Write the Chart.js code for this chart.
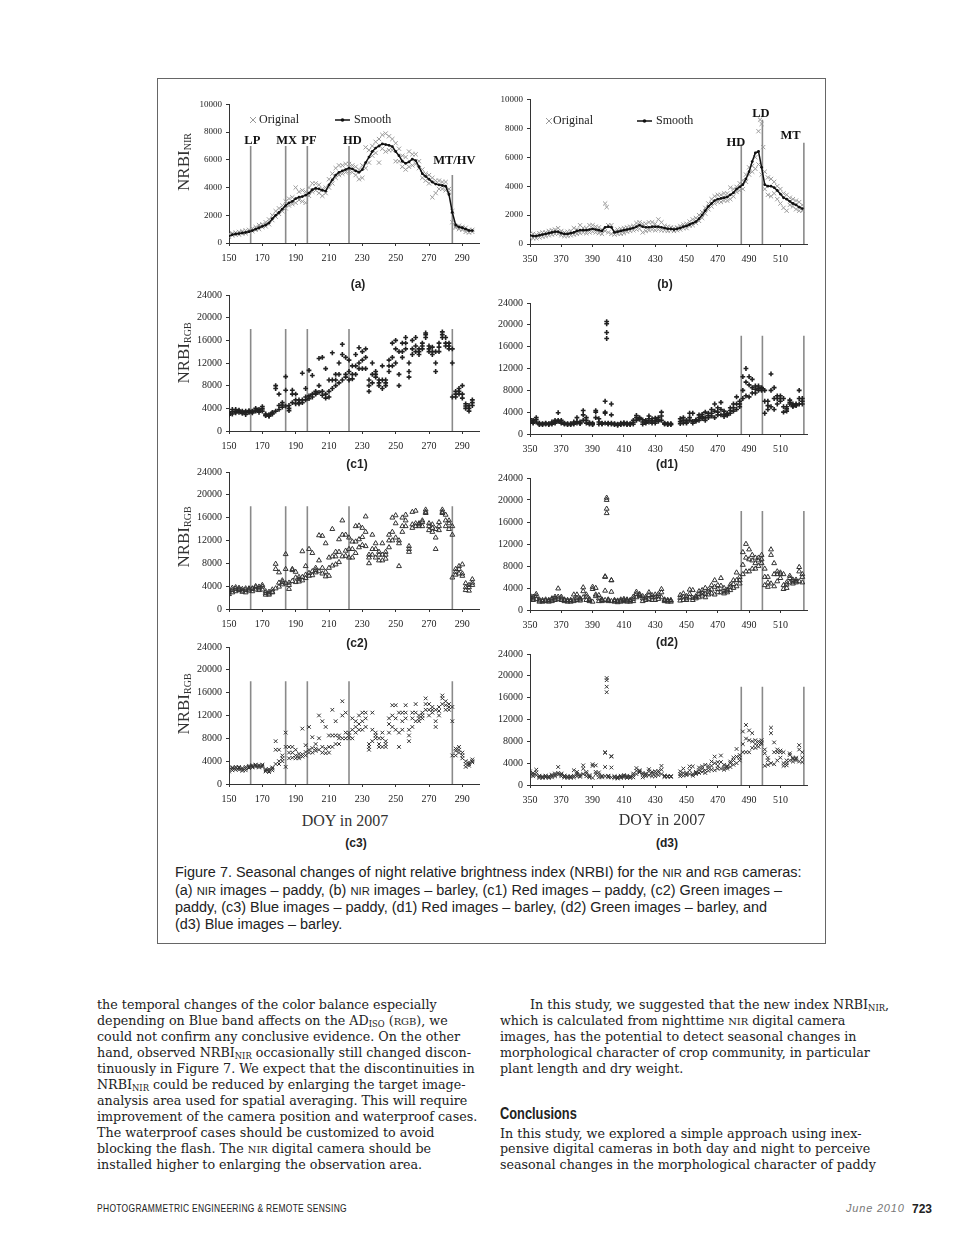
<!DOCTYPE html>
<html>
<head>
<meta charset="utf-8">
<script src="https://cdn.jsdelivr.net/npm/chart.js@4.4.1/dist/chart.umd.min.js"></script>
<style>
  body { margin:0; width:960px; height:1247px; position:relative; overflow:hidden; background:#fff; color:#222; font-family:"Liberation Serif", serif; }
  .box { position:absolute; left:157px; top:78px; width:667px; height:864px; border:1.5px solid #666; }
  canvas { position:absolute; }
  .ytit { position:absolute; font-size:17px; white-space:nowrap; transform:translate(-50%,-50%) rotate(-90deg); color:#333; }
  .ytit sub { font-size:10px; vertical-align:-2px; }
  .plab { position:absolute; font:bold 12px "Liberation Sans", Arial, sans-serif; transform:translate(-50%,-50%); }
  .doy { position:absolute; font-size:16px; transform:translate(-50%,-50%); white-space:nowrap; color:#333; }
  .cap { position:absolute; left:175px; font-family:"Liberation Sans", Arial, sans-serif; font-size:13px; white-space:nowrap; line-height:16px; }
  .sc { font-size:0.78em; }
  .txt { position:absolute; font-family:"DejaVu Serif", serif; font-size:12.5px; white-space:nowrap; line-height:16px; color:#222; }
  .txt sub { font-size:0.66em; vertical-align:-0.25em; line-height:0; }
  .head { position:absolute; left:500px; top:1105px; font:bold 16px "Liberation Sans", Arial, sans-serif; transform-origin:left center; transform:scaleX(0.8); }
  .foot { position:absolute; top:1202px; font-family:"Liberation Sans", Arial, sans-serif; white-space:nowrap; }
</style>
</head>
<body>
<div class="box"></div>

<canvas id="cA" width="320" height="170" style="left:171px;top:95px"></canvas>
<canvas id="cB" width="345" height="176" style="left:472px;top:90px"></canvas>
<canvas id="cC1" width="320" height="168" style="left:171px;top:285px"></canvas>
<canvas id="cD1" width="345" height="163" style="left:472px;top:293px"></canvas>
<canvas id="cC2" width="320" height="169" style="left:171px;top:462px"></canvas>
<canvas id="cD2" width="345" height="164" style="left:472px;top:468px"></canvas>
<canvas id="cC3" width="320" height="169" style="left:171px;top:637px"></canvas>
<canvas id="cD3" width="345" height="163" style="left:472px;top:644px"></canvas>

<div class="ytit" style="left:184px;top:162px">NRBI<sub>NIR</sub></div>
<div class="ytit" style="left:184px;top:353px">NRBI<sub>RGB</sub></div>
<div class="ytit" style="left:184px;top:537px">NRBI<sub>RGB</sub></div>
<div class="ytit" style="left:184px;top:704px">NRBI<sub>RGB</sub></div>

<div class="plab" style="left:358px;top:284px">(a)</div>
<div class="plab" style="left:665px;top:284px">(b)</div>
<div class="plab" style="left:357px;top:464px">(c1)</div>
<div class="plab" style="left:667px;top:464px">(d1)</div>
<div class="plab" style="left:357px;top:643px">(c2)</div>
<div class="plab" style="left:667px;top:642px">(d2)</div>
<div class="plab" style="left:356px;top:843px">(c3)</div>
<div class="plab" style="left:667px;top:843px">(d3)</div>
<div class="doy" style="left:345px;top:821px">DOY in 2007</div>
<div class="doy" style="left:662px;top:820px">DOY in 2007</div>

<div class="cap" id="cap1" style="top:864px">Figure 7. Seasonal changes of night relative brightness index (NRBI) for the <span class="sc">NIR</span> and <span class="sc">RGB</span> cameras:</div>
<div class="cap" style="top:882px">(a) <span class="sc">NIR</span> images – paddy, (b) <span class="sc">NIR</span> images – barley, (c1) Red images – paddy, (c2) Green images –</div>
<div class="cap" style="top:899px">paddy, (c3) Blue images – paddy, (d1) Red images – barley, (d2) Green images – barley, and</div>
<div class="cap" style="top:916px">(d3) Blue images – barley.</div>

<div class="txt" style="left:97px;top:997px">the temporal changes of the color balance especially</div>
<div class="txt" style="left:97px;top:1013px">depending on Blue band affects on the AD<sub>ISO</sub> (<span class="sc">RGB</span>), we</div>
<div class="txt" style="left:97px;top:1029px">could not confirm any conclusive evidence. On the other</div>
<div class="txt" style="left:97px;top:1045px">hand, observed NRBI<sub>NIR</sub> occasionally still changed discon-</div>
<div class="txt" id="ref5" style="left:97px;top:1061px">tinuously in Figure 7. We expect that the discontinuities in</div>
<div class="txt" style="left:97px;top:1077px">NRBI<sub>NIR</sub> could be reduced by enlarging the target image-</div>
<div class="txt" style="left:97px;top:1093px">analysis area used for spatial averaging. This will require</div>
<div class="txt" style="left:97px;top:1109px">improvement of the camera position and waterproof cases.</div>
<div class="txt" style="left:97px;top:1125px">The waterproof cases should be customized to avoid</div>
<div class="txt" style="left:97px;top:1141px">blocking the flash. The <span class="sc">NIR</span> digital camera should be</div>
<div class="txt" style="left:97px;top:1157px">installed higher to enlarging the observation area.</div>

<div class="txt" style="left:530px;top:997px">In this study, we suggested that the new index NRBI<sub>NIR</sub>,</div>
<div class="txt" style="left:500px;top:1013px">which is calculated from nighttime <span class="sc">NIR</span> digital camera</div>
<div class="txt" style="left:500px;top:1029px">images, has the potential to detect seasonal changes in</div>
<div class="txt" style="left:500px;top:1045px">morphological character of crop community, in particular</div>
<div class="txt" style="left:500px;top:1061px">plant length and dry weight.</div>
<div class="head">Conclusions</div>
<div class="txt" style="left:500px;top:1126px">In this study, we explored a simple approach using inex-</div>
<div class="txt" style="left:500px;top:1141px">pensive digital cameras in both day and night to perceive</div>
<div class="txt" style="left:500px;top:1157px">seasonal changes in the morphological character of paddy</div>

<div class="foot" id="footL" style="left:97px;font-size:11px;letter-spacing:0.4px;transform-origin:left center">PHOTOGRAMMETRIC ENGINEERING &amp; REMOTE SENSING</div>
<div class="foot" style="left:846px;font-size:11px;font-style:italic;color:#777;letter-spacing:0.8px">June 2010</div>
<div class="foot" style="left:912px;font-size:12px;font-weight:bold">723</div>

<script>
// ---- (a) NIR paddy ----
const paddyDays = [
  150,152,154,156,158,160,162,164,166,168,
  170,172,174,176,178,180,182,184,186,188,
  190,192,194,196,198,200,202,204,206,208,
  210,212,214,216,218,220,222,224,226,228,
  230,232,234,236,238,240,242,244,246,248,
  250,252,254,256,258,260,262,264,266,268,
  270,272,274,276,278,280,282,284,286,288,
  290,292,294,296];
const nirSmoothA = [
  500,600,650,680,720,760,820,900,1000,1100,
  1200,1300,1450,1750,2000,2200,2450,2700,2900,3000,
  3200,3300,3350,3450,3600,3850,3950,3900,3800,3750,
  4200,4550,4900,5100,5200,5300,5400,5350,5200,5100,
  5300,5800,6200,6600,6850,7000,7150,7100,7050,6950,
  6600,6300,5900,5750,5850,6050,5950,5500,5000,4800,
  4600,4400,4250,4200,4150,4100,3500,2200,1300,1150,
  1100,1000,900,900];
const nirOrigLoA = [
  450,550,600,600,700,700,800,850,950,1000,
  1150,1200,1350,1650,1900,2100,2300,2500,2700,2800,
  2900,3100,3000,2900,3400,3700,3800,3600,3400,3600,
  4000,4300,4700,4900,5000,5100,5200,5100,4900,4600,
  4700,5400,5800,6300,6500,5800,6800,6600,6700,6700,
  5900,5900,5500,5300,5500,5600,5700,5400,4700,4500,
  4300,3300,3600,3900,3900,3800,3700,1500,1100,1000,
  950,800,750,800];
const nirOrigHiA = [
  650,700,750,800,850,900,950,1050,1150,1300,
  1350,1500,1700,2000,2300,2500,2700,3000,3200,3300,
  4000,3700,3800,3700,4000,4300,4300,4200,3900,4000,
  4600,5000,5400,5600,5600,5700,5700,5600,5500,5300,
  5600,6900,6700,7000,7300,7500,7800,7900,7700,7500,
  7200,6800,6300,6200,6600,6400,6400,5900,5300,5000,
  4900,4700,4500,4500,4400,4400,3900,2300,1200,1250,
  1150,1100,950,950];

// ---- (b) NIR barley ----
const barleyNirDays = [
  350,352,354,356,358,360,362,364,366,368,
  370,372,374,376,378,380,382,384,386,388,
  390,392,394,396,398,400,402,404,406,408,
  410,412,414,416,418,420,422,424,426,428,
  430,432,434,436,438,440,442,444,446,448,
  450,452,454,456,458,460,462,464,466,468,
  470,472,474,476,478,480,482,484,486,488,
  490,492,494,496,498,500,502,504,506,508,
  510,512,514,516,518,520,522,524];
const nirSmoothB = [
  600,550,550,600,650,700,750,800,850,850,
  750,700,700,750,800,900,950,950,950,1000,
  1050,1000,950,900,1150,1200,1150,800,850,900,
  950,1000,1050,1100,1200,1300,1200,1150,1150,1200,
  1200,1200,1150,1100,1050,1050,1000,1050,1100,1200,
  1250,1350,1450,1550,1750,2000,2300,2600,2800,3000,
  3100,3150,3200,3250,3400,3550,3800,3950,4100,4500,
  5000,5700,6300,6400,5300,4100,4000,4000,3900,3700,
  3450,3200,3100,2950,2800,2700,2550,2450];
const nirOrigLoB = [
  450,400,400,450,500,550,600,650,700,700,
  600,550,550,600,650,700,750,800,750,800,
  850,800,750,700,900,800,700,650,700,700,
  750,850,900,950,1000,1050,800,900,950,1000,
  950,1000,950,950,900,950,900,950,1000,1100,
  1100,1250,1300,1450,1600,1800,2100,2400,2600,2800,
  2900,2900,3000,3000,3100,3300,3600,3700,3800,4300,
  4800,5000,5200,5500,4800,3800,3400,3300,3500,3100,
  2800,2500,2300,2700,2600,2400,2300,2300];
const nirOrigHiB = [
  700,700,650,750,800,800,900,950,1000,1100,
  900,800,850,900,1100,1000,1300,1100,1100,1300,
  1300,1200,1150,1000,2800,1300,1300,900,1000,1050,
  1100,1150,1200,1250,1450,1500,1400,1400,1500,1500,
  1400,1700,1500,1250,1200,1150,1100,1150,1250,1350,
  1400,1550,1700,1800,2000,2200,2500,2800,3100,3300,
  3400,3400,3500,3500,3900,3800,3950,4200,4400,4800,
  5300,5400,6000,7800,8300,5000,4600,4500,4300,4000,
  3800,3500,3400,3200,3100,3000,2900,2700];
const nirExtraDaysB = [399, 497, 499];
const nirExtraB = [2550, 8600, 6700];

// ---- (c1)-(c3) RGB paddy ----
const redLoC = [
  2800,3000,3200,3300,3100,2900,3300,3200,3500,3300,
  3500,2700,2600,3000,3500,3800,4200,4400,3600,5000,
  4800,4800,5000,5500,5700,6000,6500,6800,6300,5800,
  6000,7500,8000,8500,9000,9500,9000,9200,10000,11000,
  11000,11000,7000,8500,9500,8000,7500,8000,10500,11500,
  12000,8000,13000,14500,9500,13500,14000,13500,14500,16500,
  14000,13500,10500,14000,16500,15000,14500,6000,6000,6500,
  5800,4000,3500,4500];
const redMidC = [
  3000,3400,3500,3500,3300,3200,3400,3400,3700,3600,
  3900,2800,2700,3100,7500,4500,4600,7200,4000,6500,
  5500,5000,5500,6000,6200,6500,6700,8000,7000,6500,
  7000,9000,9000,10000,13500,10000,10500,10000,11500,12000,
  12500,13000,8000,10000,10000,8500,9000,8500,11500,13000,
  14500,10000,14000,15500,10500,14500,15000,14000,15000,17000,
  14500,14000,12000,14800,17000,15500,15000,12000,6500,7000,
  6500,4400,4000,5000];
const redHiC = [
  3200,3800,3800,3700,3500,3500,3600,3500,4000,3800,
  4300,3000,2900,3300,8000,6500,5000,9600,4500,7200,
  6500,5500,10200,7500,10700,9800,7000,12800,13000,11000,
  9000,13800,10000,12000,15300,13000,12500,11500,13500,14700,
  14000,14500,9000,12000,10500,9000,11500,9000,12500,15500,
  16000,14000,15500,16500,12000,16000,16500,14500,15500,17300,
  15000,14800,14000,15500,17500,16500,15500,14500,7000,7500,
  8000,4800,4500,5500];
const greenLoC = [
  2600,2900,3100,3300,3000,2900,3200,3100,3400,3300,
  3400,2500,2500,2900,3600,3900,4300,4500,3500,4900,
  4700,4800,5000,5400,5800,5900,6400,6600,6200,5700,
  5800,7600,7800,8200,9200,9300,9000,9000,9800,10800,
  11200,11000,8000,9500,9000,8500,8500,8800,10800,12000,
  12500,7500,13500,14500,10000,14200,14500,14500,14500,16800,
  13800,13500,10500,13800,16800,14500,14000,5500,6000,6200,
  5800,3300,3200,4200];
const greenMidC = [
  3000,3300,3500,3500,3200,3300,3400,3500,3800,3600,
  3900,2800,2700,3000,7000,4600,4700,7000,4200,6800,
  5500,5200,5600,6000,6300,6600,6800,8500,7200,6500,
  7200,9200,9200,10000,13000,10200,10500,10500,11800,12200,
  12600,13500,9000,10500,10500,9500,9500,9500,12000,13500,
  15000,11500,14500,15500,10500,14800,15000,14800,15200,17000,
  14500,14200,12500,14500,17000,15500,15000,13000,6500,7000,
  6200,3800,3800,4600];
const greenHiC = [
  3300,3700,3800,3700,3500,3600,3600,3600,4000,3900,
  4200,3100,3000,3400,7900,6400,5000,9600,4600,7000,
  6500,5600,10100,7500,10500,9800,7200,12900,12800,11500,
  9000,14000,10000,12200,15500,13000,12500,11800,14500,14600,
  14200,16200,9500,13000,11500,10000,11500,10000,13000,16000,
  16400,12000,16000,16500,11000,17000,17200,15000,15500,17400,
  15000,14800,14000,15200,17400,16500,15500,14500,7000,7500,
  7800,4500,4200,5200];
const blueLoC = [
  2200,2400,2500,2500,2300,2400,2800,2900,3000,2900,
  3000,2200,2100,2400,3500,3500,4000,3000,4500,4600,
  4500,4500,4800,5000,5500,5500,5800,6000,5500,5400,
  5500,6500,7000,7000,8000,8000,8000,8000,9000,9500,
  9500,10000,6000,7500,8000,6500,6500,6500,9000,10000,
  9500,6500,9500,11500,7500,10000,11000,11000,11500,13000,
  12000,12500,10000,12000,14000,13000,13000,5000,5000,5500,
  4500,3000,3200,3800];
const blueMidC = [
  2500,2700,2800,2800,2600,2700,3000,3100,3200,3100,
  3200,2400,2300,2700,6000,4000,4500,6500,5500,5500,
  5000,4800,5200,5600,6000,6300,6200,8000,6500,6200,
  6500,8500,8500,8000,12000,9000,8500,9500,10000,10500,
  11000,11500,6500,9500,8500,7000,8000,7000,10500,12000,
  11500,9000,11000,12500,8500,11500,12500,11500,12000,14000,
  13000,13000,11000,12800,15000,13800,13500,11000,5800,6000,
  5000,3500,3500,4000];
const blueHiC = [
  2900,2900,3000,3000,2800,3000,3200,3300,3400,3300,
  3400,2600,2600,2900,7500,6000,5000,9000,6500,6500,
  6000,5300,9700,6800,10000,8200,7000,12000,11000,10000,
  8500,13000,11000,8500,14500,12500,9000,11500,11000,12000,
  12500,12500,7000,12500,9000,8000,9000,7500,11500,13800,
  13800,12500,12500,13800,9500,12500,14000,12000,12500,15000,
  14000,13500,13000,13500,15500,14500,14000,13500,6200,6500,
  5500,4000,3800,4300];

// ---- (d1)-(d3) RGB barley ----
const barleyDays = [
  350,352,354,356,358,360,362,364,366,368,
  370,372,374,376,378,380,382,384,386,388,
  390,392,394,396,398,400,402,404,406,408,
  410,412,414,416,418,420,422,424,426,428,
  430,432,434,436,438,440,446,448,450,452,
  454,456,458,460,462,464,466,468,470,472,
  474,476,478,480,482,484,486,488,490,492,
  494,496,498,500,502,504,506,508,510,512,
  514,516,518,520,522,524];
const redLoD = [
  2200,2000,2200,1700,1700,1800,1700,1800,2000,2300,
  2000,1800,1700,1700,1800,2000,1900,2500,2000,1800,
  1700,3000,1800,1800,2000,1800,1800,1700,1600,1700,
  1800,1700,1700,1800,2500,2700,1800,2000,2200,2000,
  2000,2300,2500,1800,1700,1700,1900,2000,2000,2500,
  2000,2300,2500,2800,2500,3000,3300,3000,3500,3500,
  3200,3400,3800,4200,4500,5000,6500,7000,6800,7500,
  7500,8000,8000,3800,4500,5000,4500,5500,6000,4000,
  4200,5500,5000,5200,5500,5500];
const redMidD = [
  2500,2200,2600,1800,1800,1900,1800,2000,2200,2500,
  2200,1900,1800,1800,2000,2300,2000,3500,2500,1900,
  1800,4000,2200,1900,3800,1900,2000,1800,1700,1800,
  1900,1800,1800,2100,3000,2800,2200,2200,2800,2400,
  2400,2600,3300,1900,1800,1800,2300,2500,2200,3000,
  2300,2500,3000,3200,3000,3400,3800,4200,4000,4500,
  3600,3600,4300,4800,5500,5500,8000,9500,9000,8500,
  8200,8400,8300,6000,5200,8000,6500,6500,6500,5000,
  4600,5800,5200,5300,6500,6000];
const redHiD = [
  2800,2500,3000,2000,1900,2000,1900,2200,2500,3900,
  2500,2000,1900,1900,2200,3000,2200,4300,3000,2100,
  2000,4300,2800,2000,4000,2000,3500,1900,1800,2000,
  2100,2000,1900,2500,3400,3000,2600,2500,3300,2800,
  2900,3000,4000,2000,1900,1900,2800,3000,2500,3800,
  3800,2600,3500,3600,4000,3800,4500,5500,4800,5800,
  4200,3800,4800,5500,6800,6000,10500,12000,10500,10000,
  8800,8800,8500,8000,6000,11000,8500,7000,7000,6500,
  5000,6200,5500,5500,8000,6500];
const greenLoD = [
  2000,1800,2000,1500,1500,1600,1500,1600,1800,2000,
  1800,1600,1500,1500,1600,1800,1700,2300,1800,1600,
  1500,2500,1600,1600,1800,1600,1600,1500,1400,1500,
  1600,1500,1500,1600,2300,2500,1600,1800,2000,1800,
  1800,2000,2300,1600,1500,1500,1700,1800,1800,2300,
  1800,2100,2300,2600,2300,2800,3000,2800,3200,3200,
  3000,3200,3600,4000,4300,4800,6500,7000,7000,7500,
  7500,8000,8500,4500,4200,4800,4300,5200,5800,3800,
  4000,5000,4800,5000,5200,5000];
const greenMidD = [
  2400,2100,2500,1700,1600,1700,1700,1900,2100,2400,
  2100,1800,1700,1700,1900,2200,1900,3400,2400,1800,
  3800,4000,2100,1800,3500,1800,3300,1700,1600,1700,
  1800,1700,1700,2000,2900,2700,2100,2100,2700,2300,
  2300,2500,3200,1800,1700,1700,2200,2400,2100,2900,
  2200,2400,2900,3100,2900,3300,3700,4200,3800,4400,
  3400,3500,4200,4700,5400,5400,8200,9500,9200,9000,
  8500,9000,9200,6000,5000,10000,6500,6500,6500,4500,
  4600,5800,5200,5200,7000,6000];
const greenHiD = [
  2700,2400,2900,1900,1800,1900,1800,2100,2400,3900,
  2400,1900,1800,1800,2800,2800,2100,4100,2800,2000,
  4200,2800,2700,1900,6000,1900,5400,1800,1700,1900,
  2000,1900,1800,2400,3300,2900,2500,2400,3200,2700,
  2800,2900,3800,1900,1800,1800,2700,3000,2500,3700,
  3600,2500,3400,3600,4000,3700,4500,5400,4500,5800,
  4000,3700,4600,5400,6800,6000,10500,12000,11000,10000,
  9500,9500,10000,7500,6000,11000,8500,7000,6800,6500,
  5000,6200,5500,5500,7800,6500];
const blueLoD = [
  1900,1600,1800,1300,1300,1400,1300,1400,1600,1900,
  1600,1400,1300,1300,1400,1600,1500,2000,1600,1400,
  1300,2000,1400,1400,1600,1400,1400,1300,1200,1300,
  1400,1300,1300,1400,2000,2300,1400,1600,1800,1600,
  1600,1800,2000,1500,1500,1500,1600,1700,1800,2000,
  1700,2000,2200,2400,2200,2600,2800,2700,3000,3000,
  2800,3000,3300,3700,4000,4500,6000,6000,6000,6800,
  6800,7000,7500,3500,3700,4000,3800,4500,5000,3500,
  3600,4500,4300,4500,4300,4200];
const blueMidD = [
  2200,1900,2300,1500,1400,1500,1500,1700,1900,2200,
  1900,1600,1500,1500,1700,2000,1700,3000,2100,1600,
  3500,3600,1900,1600,3300,1600,3200,1500,1400,1500,
  1600,1500,1500,1800,2600,2500,1900,1900,2500,2100,
  2100,2300,2800,1600,1600,1600,2000,2200,2000,2700,
  2000,2200,2700,3000,2700,3100,3500,4000,3500,4200,
  3200,3300,4000,4500,5200,5000,7500,8500,8200,8000,
  7500,7600,7800,5800,4500,9500,6000,6000,6000,4000,
  4000,5500,4800,4800,6500,5000];
const blueHiD = [
  2500,2200,2800,1700,1600,1700,1600,1900,2100,3300,
  2100,1700,1600,1600,2700,2400,1900,3600,2400,1800,
  3800,2400,2300,1700,6000,1700,5200,1600,1500,1700,
  1800,1700,1600,2100,3100,2700,2200,2100,2900,2400,
  2500,2600,3500,1700,1600,1600,2500,3000,2200,3400,
  3400,2400,3200,3400,3700,3500,4300,5200,4200,5400,
  3700,3500,4300,5000,6600,5500,9800,11000,10000,9500,
  8200,8000,8200,6500,5000,10500,7800,6500,6300,6000,
  4500,5800,5000,5000,7300,6000];
const spikeDays = [398, 399, 399, 399, 399, 402];
const redSpike = [6000, 17500, 18600, 20200, 20600, 5500];
const greenSpike = [6100, 17600, 18400, 20000, 20400, 5400];
const blueSpike = [5900, 17000, 18000, 19200, 19600, 5300];

// ---- axes and event markers ----
const paddyTicks = [150,170,190,210,230,250,270,290];
const barleyTicks = [350,370,390,410,430,450,470,490,510];
const nirTicks = [0,2000,4000,6000,8000,10000];
const rgbTicks = [0,4000,8000,12000,16000,20000,24000];
const paddyEvents = [163,184,197,222,284];
const paddyEventNames = ['LP','MX','PF','HD','MT/HV'];
const nirPaddyEventTops = [7000,7000,7000,7000,4900];
const rgbPaddyEventTops = [18000,18000,18000,18000,18000];
const barleyEvents = [485,498.5,525];
const barleyEventNames = ['HD','LD','MT'];
const nirBarleyEventTops = [6900,8600,7000];
const rgbBarleyEventTops = [18000,18000,18000];

const pts = (xs, ys) => xs.map((x, i) => ({ x: x, y: ys[i] }));

const sOrig = { pointStyle: 'crossRot', pointRadius: 3, borderColor: '#9a9a9a', borderWidth: 1 };
const sSmooth = { showLine: true, borderColor: '#111', borderWidth: 1.5, pointRadius: 1.4,
  pointBackgroundColor: '#111', pointBorderWidth: 0 };
const sPlus = { pointStyle: 'cross', pointRadius: 2.4, borderColor: '#222', borderWidth: 1.6 };
const sTri = { pointStyle: 'triangle', pointRadius: 2.8, borderColor: '#333', borderWidth: 1,
  backgroundColor: 'rgba(255,255,255,0)' };
const sX = { pointStyle: 'crossRot', pointRadius: 2.6, borderColor: '#333', borderWidth: 1 };

function marks(xs, ys, style) {
  return Object.assign({ data: pts(xs, ys), showLine: false }, style);
}

function eventLines(days, tops) {
  return days.map((d, i) => ({
    data: [{ x: d, y: 0 }, { x: d, y: tops[i] }],
    showLine: true, borderColor: '#8a8a8a', borderWidth: 1.6, pointRadius: 0
  }));
}

function axis(min, max, tickVals, isX, fontSize, fit) {
  return {
    type: 'linear', min: min, max: max,
    afterBuildTicks: s => { s.ticks = tickVals.map(v => ({ value: v })); },
    afterFit: s => { if (isX) s.height = fit; else s.width = fit; },
    grid: { display: true, drawOnChartArea: false, drawTicks: true, tickLength: 3, color: '#333' },
    border: { display: true, color: '#333', width: 1 },
    ticks: { color: '#222', padding: isX ? 6 : 4, maxRotation: 0, autoSkip: false,
      callback: v => String(v),
      font: { family: 'Liberation Serif', size: fontSize } }
  };
}

function makeChart(id, o) {
  return new Chart(document.getElementById(id), {
    type: 'scatter',
    data: { datasets: o.datasets },
    options: {
      responsive: false, animation: false, events: [],
      layout: { padding: { top: 9, right: o.padR, bottom: 0, left: 0 } },
      plugins: { legend: { display: false }, tooltip: { enabled: false } },
      scales: {
        x: axis(o.xMin, o.xMax, o.xTicks, true, 10, 22),
        y: axis(0, o.yMax, o.yTicks, false, o.yFont, 58)
      }
    },
    plugins: [{ id: 'notes', afterDatasetsDraw: ch => { if (o.notes) o.notes(ch); } }]
  });
}

function eventNames(ch, names, xs, ys) {
  const ctx = ch.ctx;
  ctx.save();
  ctx.font = 'bold 12.5px "Liberation Serif"';
  ctx.fillStyle = '#111';
  ctx.textAlign = 'center';
  ctx.textBaseline = 'middle';
  names.forEach((n, i) => ctx.fillText(n, ch.scales.x.getPixelForValue(xs[i]), ch.scales.y.getPixelForValue(ys[i])));
  ctx.restore();
}

function legendBox(ch, xMark, gap, xLine, y) {
  const ctx = ch.ctx;
  ctx.save();
  ctx.strokeStyle = '#999'; ctx.lineWidth = 1;
  ctx.beginPath();
  ctx.moveTo(xMark - 3, y - 3); ctx.lineTo(xMark + 3, y + 3);
  ctx.moveTo(xMark + 3, y - 3); ctx.lineTo(xMark - 3, y + 3);
  ctx.stroke();
  ctx.fillStyle = '#222'; ctx.font = '12px "Liberation Serif"'; ctx.textBaseline = 'middle';
  ctx.fillText('Original', xMark + gap, y);
  ctx.strokeStyle = '#111'; ctx.lineWidth = 1.5;
  ctx.beginPath(); ctx.moveTo(xLine, y); ctx.lineTo(xLine + 15, y); ctx.stroke();
  ctx.beginPath(); ctx.arc(xLine + 7.5, y, 1.8, 0, Math.PI * 2); ctx.fillStyle = '#111'; ctx.fill();
  ctx.fillStyle = '#222';
  ctx.fillText('Smooth', xLine + 19, y);
  ctx.restore();
}

// (a)
makeChart('cA', {
  xMin: 150, xMax: 300, xTicks: paddyTicks, yMax: 10000, yTicks: nirTicks, yFont: 9, padR: 12,
  datasets: [
    Object.assign({ data: pts(paddyDays, nirSmoothA) }, sSmooth),
    marks(paddyDays, nirOrigLoA, sOrig),
    marks(paddyDays, nirOrigHiA, sOrig)
  ].concat(eventLines(paddyEvents, nirPaddyEventTops)),
  notes: ch => {
    eventNames(ch, paddyEventNames, [164, 184.6, 198, 224, 285.2], [7400, 7400, 7400, 7400, 5900]);
    legendBox(ch, 82, 6, 164, 25);
  }
});

// (b)
makeChart('cB', {
  xMin: 350, xMax: 527, xTicks: barleyTicks, yMax: 10000, yTicks: nirTicks, yFont: 9, padR: 10,
  datasets: [
    Object.assign({ data: pts(barleyNirDays, nirSmoothB) }, sSmooth),
    marks(barleyNirDays, nirOrigLoB, sOrig),
    marks(barleyNirDays, nirOrigHiB, sOrig),
    marks(nirExtraDaysB, nirExtraB, sOrig)
  ].concat(eventLines(barleyEvents, nirBarleyEventTops)),
  notes: ch => {
    eventNames(ch, barleyEventNames, [481.5, 497.5, 516.5], [7000, 9000, 7500]);
    legendBox(ch, 77, 4, 165, 31);
  }
});

// (c1)-(c3)
const paddyRgb = [
  ['cC1', redLoC, redMidC, redHiC, sPlus],
  ['cC2', greenLoC, greenMidC, greenHiC, sTri],
  ['cC3', blueLoC, blueMidC, blueHiC, sX]
];
paddyRgb.forEach(p => {
  makeChart(p[0], {
    xMin: 150, xMax: 300, xTicks: paddyTicks, yMax: 24000, yTicks: rgbTicks, yFont: 10, padR: 12,
    datasets: [
      marks(paddyDays, p[1], p[4]),
      marks(paddyDays, p[2], p[4]),
      marks(paddyDays, p[3], p[4])
    ].concat(eventLines(paddyEvents, rgbPaddyEventTops))
  });
});

// (d1)-(d3)
const barleyRgb = [
  ['cD1', redLoD, redMidD, redHiD, redSpike, sPlus],
  ['cD2', greenLoD, greenMidD, greenHiD, greenSpike, sTri],
  ['cD3', blueLoD, blueMidD, blueHiD, blueSpike, sX]
];
barleyRgb.forEach(p => {
  makeChart(p[0], {
    xMin: 350, xMax: 527, xTicks: barleyTicks, yMax: 24000, yTicks: rgbTicks, yFont: 10, padR: 10,
    datasets: [
      marks(barleyDays, p[1], p[5]),
      marks(barleyDays, p[2], p[5]),
      marks(barleyDays, p[3], p[5]),
      marks(spikeDays, p[4], p[5])
    ].concat(eventLines(barleyEvents, rgbBarleyEventTops))
  });
});

// fit text widths to the page
function fitGroup(sel, refEl, target, base) {
  const w = refEl.getBoundingClientRect().width;
  const size = base * target / w;
  document.querySelectorAll(sel).forEach(el => { el.style.fontSize = size + 'px'; });
}
fitGroup('.cap', document.getElementById('cap1'), 627, 13);
fitGroup('.txt', document.getElementById('ref5'), 378, 12.5);
const fl = document.getElementById('footL');
fl.style.transform = 'scaleX(' + (250 / fl.getBoundingClientRect().width) + ')';
</script>
</body>
</html>
